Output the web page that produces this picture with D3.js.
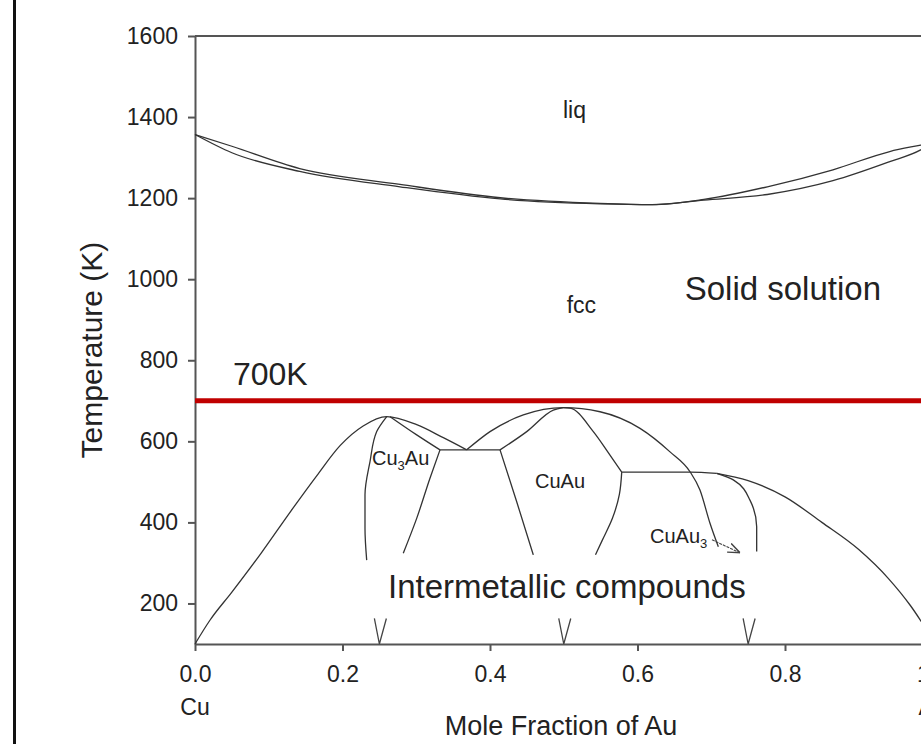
<html>
<head>
<style>
  body { margin: 0; background: #fff; }
  text { font-family: "Liberation Sans", Arial, Helvetica, sans-serif; fill: #222; }
</style>
</head>
<body>
<script src="https://cdn.jsdelivr.net/npm/d3@7"></script>
<script>
// tick values
let xTicks = [0, 0.2, 0.4, 0.6, 0.8, 1.0]
let yTicks = [200, 400, 600, 800, 1000, 1200, 1400, 1600]

// phase boundaries, [mole fraction Au, temperature K]
let liquidus = [[0, 1357], [0.05, 1328], [0.142, 1273], [0.278, 1234], [0.414, 1201], [0.549, 1187], [0.62, 1184], [0.69, 1197], [0.776, 1228], [0.865, 1270], [0.942, 1315], [0.984, 1331], [1, 1337]]
let solidus = [[0, 1357], [0.05, 1312], [0.142, 1266], [0.278, 1228], [0.414, 1198], [0.549, 1186], [0.62, 1184], [0.69, 1195], [0.776, 1209], [0.865, 1243], [0.942, 1290], [0.984, 1319], [1, 1337]]

let cu3auDome = [[0, 100], [0.02, 158], [0.05, 228], [0.09, 325], [0.13, 428], [0.165, 515], [0.197, 590], [0.228, 638], [0.26, 661], [0.3006, 641], [0.3367, 609], [0.3684, 579]]
let cu3auTie = [[0.2644, 661], [0.3006, 616], [0.3322, 579]]
let eutectoid1 = [[0.3322, 579], [0.4136, 579]]
let cuauDome = [[0.3684, 579], [0.4, 624], [0.4452, 665], [0.4994, 683], [0.5492, 673], [0.6034, 632], [0.6441, 574], [0.6712, 525], [0.6847, 480], [0.6983, 398], [0.7096, 340]]
let cuauTieLeft = [[0.4136, 579], [0.4498, 624], [0.4858, 677], [0.4994, 683]]
let cuauTieRight = [[0.4994, 683], [0.5085, 682], [0.5401, 624], [0.5627, 566], [0.5786, 524]]
let eutectoid2 = [[0.5786, 524], [0.6712, 524], [0.7074, 521]]
let auDome = [[0.7074, 521], [0.75, 503], [0.8, 463], [0.85, 400], [0.9, 333], [0.94, 262], [0.97, 195], [1.0, 112]]

// near-vertical boundaries of the ordered fields
let cu3auLeft = [[0.26, 661], [0.2464, 624], [0.2373, 550], [0.2305, 468], [0.2305, 385], [0.2328, 307]]
let cu3auRight = [[0.3322, 579], [0.3186, 509], [0.3006, 410], [0.2824, 324]]
let cuauLeft = [[0.4136, 579], [0.4362, 451], [0.4587, 320]]
let cuauRight = [[0.5786, 524], [0.5755, 470], [0.566, 410], [0.552, 355], [0.543, 320]]
let cuau3Right = [[0.7074, 521], [0.7299, 505], [0.7525, 455], [0.7616, 389], [0.7616, 328]]

let arrowLine = [[0.701, 357], [0.739, 325]]

// stoichiometric compositions marked on the axis
let compositions = [0.25, 0.5, 0.75]
let lineTemp = 700

let domes = [cu3auDome, cu3auTie, eutectoid1, cuauDome, cuauTieLeft, cuauTieRight, eutectoid2, auDome]
let sides = [cu3auLeft, cu3auRight, cuauLeft, cuauRight, cuau3Right]

let svg = d3.select("body").append("svg")
    .attr("width", 921)
    .attr("height", 744)

// left frame edge of the screenshot
svg.append("rect").attr("x", 13).attr("y", 0).attr("width", 3).attr("height", 744).attr("fill", "#111")

let x = d3.scaleLinear().domain([0, 1]).range([195, 932.5])
let y = d3.scaleLinear().domain([100, 1600]).range([644, 36])

let lineX = d3.line().x(d => x(d[0])).y(d => y(d[1])).curve(d3.curveMonotoneX)
let lineY = d3.line().x(d => x(d[0])).y(d => y(d[1])).curve(d3.curveMonotoneY)

// axes
svg.append("g")
    .attr("transform", "translate(" + x(0) + ",0)")
    .call(d3.axisLeft(y).tickValues(yTicks).tickFormat(d3.format("d"))
          .tickSize(7).tickPadding(10).tickSizeOuter(0))
svg.append("g")
    .attr("transform", "translate(0," + y(100) + ")")
    .call(d3.axisBottom(x).tickValues(xTicks).tickFormat(d3.format(".1f"))
          .tickSize(7).tickPadding(15).tickSizeOuter(0))

svg.selectAll(".domain, .tick line").attr("stroke", "#555").attr("stroke-width", 2)
svg.selectAll(".tick text").style("font-size", "23px").attr("fill", "#222")

// top frame
svg.append("line")
    .attr("x1", x(0)).attr("x2", x(1))
    .attr("y1", y(1600)).attr("y2", y(1600))
    .attr("stroke", "#555").attr("stroke-width", 2)

// element names under the axis ends
svg.append("text").attr("x", x(0)).attr("y", 715).attr("text-anchor", "middle")
    .style("font-size", "23px").text("Cu")
svg.append("text").attr("x", x(1)).attr("y", 715).attr("text-anchor", "middle")
    .style("font-size", "23px").text("Au")

// axis titles
svg.append("text")
    .attr("transform", "translate(102,350) rotate(-90)")
    .attr("text-anchor", "middle")
    .style("font-size", "30px")
    .text("Temperature (K)")
svg.append("text")
    .attr("x", 561).attr("y", 735)
    .attr("text-anchor", "middle")
    .style("font-size", "27px")
    .text("Mole Fraction of Au")

// liquidus / solidus
svg.selectAll(".melt")
    .data([liquidus, solidus])
    .enter()
    .append("path")
    .attr("class", "melt")
    .attr("d", lineX)
    .attr("fill", "none")
    .attr("stroke", "#333")
    .attr("stroke-width", 1.3)

// ordered phase boundaries
svg.selectAll(".dome")
    .data(domes)
    .enter()
    .append("path")
    .attr("class", "dome")
    .attr("d", lineX)
    .attr("fill", "none")
    .attr("stroke", "#333")
    .attr("stroke-width", 1.3)

svg.selectAll(".side")
    .data(sides)
    .enter()
    .append("path")
    .attr("class", "side")
    .attr("d", lineY)
    .attr("fill", "none")
    .attr("stroke", "#333")
    .attr("stroke-width", 1.3)

// V marks at the stoichiometric compositions
svg.selectAll(".vmark")
    .data(compositions)
    .enter()
    .append("path")
    .attr("class", "vmark")
    .attr("d", c => "M" + (x(c) - 5) + "," + y(163) + "L" + x(c) + "," + y(100) + "L" + (x(c) + 7) + "," + y(163))
    .attr("fill", "none")
    .attr("stroke", "#444")
    .attr("stroke-width", 1.3)

// arrow to the CuAu3 field
svg.append("defs").append("marker")
    .attr("id", "head")
    .attr("viewBox", "0 -5 10 10")
    .attr("refX", 10).attr("refY", 0)
    .attr("markerWidth", 12).attr("markerHeight", 12)
    .attr("markerUnits", "userSpaceOnUse")
    .attr("orient", "auto")
    .append("path")
    .attr("d", "M0,-4L10,0L0,4")
    .attr("fill", "none")
    .attr("stroke", "#444")
    .attr("stroke-width", 1.2)

svg.append("path")
    .attr("d", d3.line().x(d => x(d[0])).y(d => y(d[1]))(arrowLine))
    .attr("fill", "none")
    .attr("stroke", "#444")
    .attr("stroke-width", 1.1)
    .attr("stroke-dasharray", "3,1")
    .attr("marker-end", "url(#head)")

// 700 K line
svg.append("line")
    .attr("x1", x(0)).attr("x2", 921)
    .attr("y1", y(lineTemp)).attr("y2", y(lineTemp))
    .attr("stroke", "#c00000")
    .attr("stroke-width", 5)

// region labels
let labels = [
  { text: "liq", x: 0.499, t: 1398, size: 23 },
  { text: "fcc", x: 0.504, t: 917, size: 23 },
  { text: "Solid solution", x: 0.664, t: 949, size: 33 },
  { text: "700K", x: 0.0515, t: 739, size: 32 },
  { text: "Intermetallic compounds", x: 0.2617, t: 213, size: 33 },
  { text: "CuAu", x: 0.461, t: 485, size: 20 }
]
svg.selectAll(".lbl")
    .data(labels)
    .enter()
    .append("text")
    .attr("class", "lbl")
    .attr("x", d => x(d.x))
    .attr("y", d => y(d.t))
    .style("font-size", d => d.size + "px")
    .text(d => d.text)

// formula labels with subscripts
let subLabels = [
  { parts: ["Cu", "3", "Au"], x: 0.24, t: 542 },
  { parts: ["CuAu", "3", ""], x: 0.617, t: 349 }
]
subLabels.forEach(d => {
  let t = svg.append("text")
      .attr("x", x(d.x)).attr("y", y(d.t))
      .style("font-size", "20px")
  t.append("tspan").text(d.parts[0])
  t.append("tspan").attr("dy", 5).style("font-size", "13px").text(d.parts[1])
  t.append("tspan").attr("dy", -5).text(d.parts[2])
})
</script>
</body>
</html>
